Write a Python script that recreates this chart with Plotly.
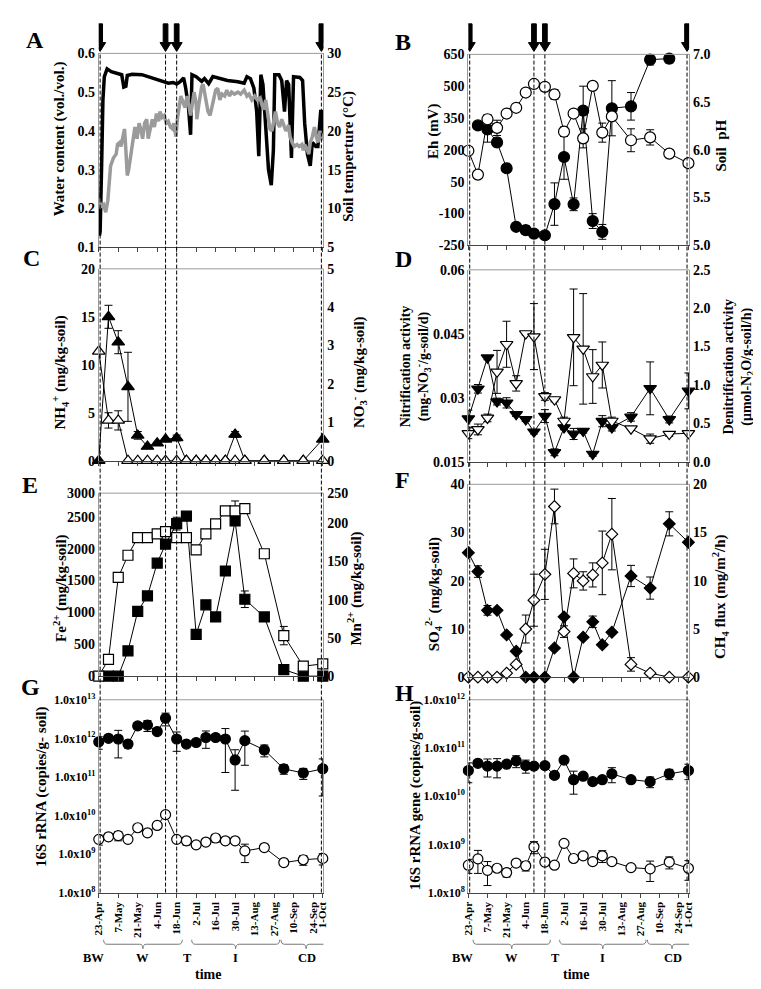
import pandas as pd
import plotly.graph_objects as go

# ---------------- data ----------------
START = pd.Timestamp("2010-04-23")
sample_dates = ["2010-04-23", "2010-04-30", "2010-05-07", "2010-05-14", "2010-05-21",
                "2010-05-28", "2010-06-04", "2010-06-10", "2010-06-18", "2010-06-25",
                "2010-07-02", "2010-07-09", "2010-07-16", "2010-07-23", "2010-07-30",
                "2010-08-06", "2010-08-20", "2010-09-03", "2010-09-17", "2010-10-01"]
tick_dates = ["2010-04-23", "2010-05-07", "2010-05-21", "2010-06-04", "2010-06-18",
              "2010-07-02", "2010-07-16", "2010-07-30", "2010-08-13", "2010-08-27",
              "2010-09-10", "2010-09-24", "2010-10-01"]
tick_labels = ["23-Apr", "7-May", "21-May", "4-Jun", "18-Jun", "2-Jul", "16-Jul",
               "30-Jul", "13-Aug", "27-Aug", "10-Sep", "24-Sep", "1-Oct"]
event_dates = ["2010-04-24", "2010-06-10", "2010-06-18", "2010-09-30"]

# Panel A: continuous records (days since 23-Apr)
wc_days = [0, 0.5, 1, 2, 3, 4, 6, 9, 13.5, 16.5, 18, 19.5, 20.5, 24, 31, 38, 45.5, 50, 53.5,
           56, 58.5, 61, 62.5, 64.5, 66, 67, 70, 74, 76, 79, 82, 87, 92.5, 100, 104.5, 106.5,
           109, 111.5, 113.5, 115, 116.5, 118, 120, 122, 124, 125.5, 126.5, 129.5, 131.5,
           133.5, 135, 136.5, 138.5, 140, 144.5, 146.5, 148, 150, 152, 153.5, 156, 157.5,
           159.5, 160.5, 161]
wc_vals = [0.19, 0.13, 0.14, 0.30, 0.48, 0.54, 0.56, 0.553, 0.548, 0.545, 0.513, 0.515, 0.543,
           0.546, 0.545, 0.537, 0.527, 0.523, 0.525, 0.521, 0.527, 0.537, 0.51, 0.46, 0.39,
           0.545, 0.54, 0.528, 0.535, 0.522, 0.54, 0.535, 0.53, 0.527, 0.523, 0.54, 0.535,
           0.51, 0.45, 0.335, 0.545, 0.52, 0.42, 0.30, 0.26, 0.35, 0.545, 0.545, 0.53, 0.45,
           0.53, 0.52, 0.33, 0.54, 0.538, 0.53, 0.42, 0.34, 0.31, 0.37, 0.36, 0.36, 0.45,
           0.45, 0.38]
temp_days = [0, 1.5, 3.5, 5, 6.5, 7.5, 8.5, 10.5, 12.5, 13.5, 15, 16, 17.5, 18.5, 19.5, 20.5,
             21.5, 23, 24.5, 26, 27.5, 29, 30.5, 31.5, 33, 34.5, 35.5, 37, 38.5, 40, 41.5, 43,
             44, 45.5, 47, 48.5, 50, 51.5, 53, 54, 55.5, 56.5, 58, 59, 60.5, 62, 63.5, 65, 66,
             67.5, 68.5, 70, 70.5, 72, 73, 74, 75, 76.5, 77.5, 78.5, 80, 81.5, 82.5, 84, 85.5,
             87, 88.5, 90.5, 92, 94, 95.5, 97.5, 100, 102, 104.5, 106.5, 108, 110, 112, 114,
             116, 117, 118.5, 120, 121.5, 123, 124.5, 126, 127, 128.5, 130, 131.5, 133, 134.5,
             136.5, 137.5, 139, 140.5, 142.5, 144, 146, 147, 148, 149.5, 151, 152, 153.5, 155,
             156, 157.5, 159, 160, 161]
temp_vals = [11.25, 10.25, 10.5, 9.5, 11, 13.5, 15.5, 16.5, 17, 18.25, 18.5, 18, 19.75, 20.25,
             17.5, 14.25, 15, 16.75, 18.75, 20.5, 19, 21, 20, 19, 21, 21.5, 19, 20.5, 21.5, 20.5,
             22.25, 21.25, 22.5, 21.75, 22, 21, 21.25, 20.5, 20.25, 21, 19.25, 21.5, 23.5, 24.5,
             23.75, 23, 24.5, 23, 22, 23.75, 25, 23.5, 21.5, 23.5, 24.5, 25.75, 26, 24.5, 23.5,
             22.5, 22, 23.5, 24, 25.25, 25.5, 24, 24.75, 24.5, 25.25, 24.5, 25, 24.75, 25, 24.75,
             25.25, 24.5, 24.75, 24, 24.5, 24, 24.25, 23.5, 22.75, 24, 22, 20.25, 20, 21.75, 22.5,
             21, 20.5, 21.5, 20.75, 20, 20.75, 19.25, 18.5, 18, 18.25, 18, 18.25, 17.5, 18.25,
             17.75, 17, 18.5, 19.25, 20.5, 19.5, 18.5, 20, 19.25, 18.75]

# Panel B
eh_vals = [None, 315, 296, 235, 113, -163, -179, -195, -203, -56, 166, -57, 385, -136, -187,
           396, 405, 625, 630, None]
eh_err = [0, 15, 60, 20, 15, 15, 20, 15, 15, 100, 105, 30, 115, 35, 35, 130, 65, 25, 20, 0]
ph_vals = [5.99, 5.74, 6.32, 6.23, 6.38, 6.44, 6.60, 6.69, 6.66, 6.58, 6.19, 6.38, 6.12, 6.67,
           6.18, 6.35, 6.10, 6.13, 5.96, 5.86]
ph_err = [0, 0, 0.05, 0.08, 0, 0, 0, 0, 0.03, 0.05, 0.05, 0, 0.1, 0, 0.1, 0, 0.12, 0.08, 0.04, 0]

# Panel C
nh4_vals = [0, 15.0, 12.35, 7.7, 2.64, 1.48, 1.82, 2.23, 2.37, 0, 0, 0, 0, 0, 2.74, 0, 0, 0, 0, 2.23]
nh4_err = [0, 1.2, 1.2, 3.6, 0.4, 0, 0.1, 0, 0.3, 0, 0, 0, 0, 0, 0.3, 0, 0, 0, 0, 0]
no3_vals = [2.85, 1.05, 1.05, 0, 0, 0, 0, 0, 0, 0, 0, 0, 0, 0, 0, 0, 0, 0, 0, 0]
no3_err = [0, 0.2, 0.25, 0, 0, 0, 0, 0, 0, 0, 0, 0, 0, 0, 0, 0, 0, 0, 0, 0]

# Panel D
nit_vals = [0.0251, 0.0321, 0.0394, 0.0291, 0.0288, 0.0261, 0.0249, 0.0220, 0.0257, 0.0172,
            0.0230, 0.0215, 0.0222, 0.0168, 0.0245, 0.0230, 0.0255, 0.0322, 0.0249, 0.0316]
nit_err = [0.002, 0.001, 0.0005, 0.0008, 0.0012, 0.0005, 0.0005, 0.0005, 0.0015, 0.0008,
           0.0005, 0.0013, 0.0005, 0.0005, 0.0013, 0.0008, 0.001, 0.0062, 0.0008, 0.0042]
den_vals = [0.37, 0.42, 0.57, 1.17, 1.53, 1.02, 1.67, 1.63, 0.85, 0.81, 0.53, 1.62, 1.47, 1.11,
            1.26, 0.53, 0.43, 0.30, 0.36, 0.37]
den_err = [0.07, 0.07, 0.05, 0.28, 0.3, 0.1, 0.02, 0.43, 0.05, 0.03, 0.05, 0.63, 0.72, 0.35,
           0.3, 0.05, 0, 0.06, 0.03, 0]

# Panel E
fe_vals = [None, 0, 0, 397, 1015, 1258, 1773, 2072, 2392, 2510, 655, 1119, 928, 1649, 2433,
           1206, 928, 103, 0, 0]
fe_err = [0, 0, 0, 0, 0, 0, 0, 0, 100, 0, 0, 0, 0, 0, 60, 130, 0, 0, 0, 0]
mn_vals = [0, 22, 129, 158, 181, 181, 186, 189, 181, 181, 165, 186, 199, 216, 216, 219, 160,
           53, 13, 16]
mn_err = [0, 0, 0, 0, 0, 0, 0, 0, 0, 0, 0, 0, 0, 0, 13, 0, 0, 12, 0, 0]

# Panel F
so4_vals = [25.8, 21.9, 13.85, 13.85, 8.76, 5.36, 0, 0, 0, 6.04, 12.5, 0, 8.28, 11.47, 6.72,
            9.3, 20.98, 18.47, 31.8, 27.97]
so4_err = [0, 1.2, 1.0, 0, 0, 0, 0, 0, 0, 0, 0, 0, 0, 1.2, 0, 0, 2.2, 2.3, 2.5, 0]
ch4_vals = [0, 0, 0, 0, 0.41, 1.32, 4.99, 7.98, 10.66, 17.7, 4.72, 10.76, 9.98, 10.6, 11.85,
            14.83, 1.32, 0.41, 0, 0]
ch4_err = [0, 0, 0, 0, 0, 0, 1.45, 2.7, 2.6, 1.8, 0.6, 1.5, 0.95, 1.25, 3.3, 3.7, 0.7, 0, 0, 0]

# Panel G
g_fill = [8.1e11, 1.0e12, 9.6e11, 7.1e11, 2.1e12, 2.2e12, 1.5e12, 3.3e12, 9.6e11, 7.1e11,
          7.8e11, 1.05e12, 1.05e12, 9.6e11, 2.75e11, 8.7e11, 5.0e11, 1.62e11, 1.26e11, 1.62e11]
g_fill_err = [2.9e11, 0, 6.5e11, 1.5e11, 4e11, 7e11, 0, 1.2e12, 5e11, 0, 0, 5e11, 0, 8.3e11,
              2.3e11, 6.7e11, 1.7e11, 4.5e10, 4e10, 1.3e11]
g_open = [2.4e9, 2.8e9, 3.0e9, 2.4e9, 4.8e9, 3.55e9, 5.5e9, 1.05e10, 2.4e9, 2.2e9, 1.73e9,
          2.04e9, 2.6e9, 2.2e9, 2.2e9, 1.2e9, 1.47e9, 6.0e8, 7.1e8, 7.7e8]
g_open_err = [7e8, 0, 8e8, 0, 0, 0, 0, 0, 0, 5e8, 3e8, 0, 6e8, 0, 0, 6e8, 0, 0, 2e8, 2.5e8]

# Panel H
h_fill = [3.4e10, 4.8e10, 4.2e10, 4.2e10, 4.6e10, 5.4e10, 4.3e10, 4.2e10, 4.3e10, 2.7e10,
          5.6e10, 2.2e10, 2.6e10, 2.0e10, 2.2e10, 2.9e10, 2.2e10, 2.0e10, 2.9e10, 3.4e10]
h_fill_err = [1.5e10, 0, 1.7e10, 1.8e10, 0, 1.5e10, 1.3e10, 0, 0, 0, 0, 1.1e10, 0, 0, 0,
              1e10, 0, 5e9, 7e9, 1.2e10]
h_open = [3.7e8, 5.0e8, 2.9e8, 3.2e8, 2.6e8, 4.1e8, 3.6e8, 8.9e8, 4.3e8, 3.7e8, 1.05e9, 5.1e8,
          5.8e8, 4.4e8, 5.8e8, 4.4e8, 3.3e8, 3.1e8, 4.3e8, 3.2e8]
h_open_err = [1.2e8, 2.5e8, 1.5e8, 0, 5e7, 0, 8e7, 2.5e8, 0, 0, 0, 0, 0, 0, 1.6e8, 0, 0,
              1.4e8, 1.2e8, 1.4e8]

# tick values / labels
A_left_t = [0.1, 0.2, 0.3, 0.4, 0.5, 0.6]
A_left_l = ["0.1", "0.2", "0.3", "0.4", "0.5", "0.6"]
A_right_t = [5, 10, 15, 20, 25, 30]
B_left_t = [-250, -100, 50, 200, 350, 500, 650]
B_left_l = ["-250", "-100", "50", "200", "350", "500", "650"]
B_right_t = [5.0, 5.5, 6.0, 6.5, 7.0]
B_right_l = ["5.0", "5.5", "6.0", "6.5", "7.0"]
C_left_t = [0, 5, 10, 15, 20]
C_right_t = [0, 1, 2, 3, 4, 5]
D_left_t = [0.015, 0.03, 0.045, 0.06]
D_left_l = ["0.015", "0.03", "0.045", "0.06"]
D_right_t = [0, 0.5, 1.0, 1.5, 2.0, 2.5]
D_right_l = ["0.0", "0.5", "1.0", "1.5", "2.0", "2.5"]
E_left_t = [0, 500, 1000, 1500, 2000, 2500, 2870]
E_left_l = ["0", "500", "1000", "1500", "2000", "2500", "3000"]
E_right_t = [0, 50, 100, 150, 200, 239.2]
E_right_l = ["0", "50", "100", "150", "200", "250"]
F_left_t = [0, 10, 20, 30, 40]
F_right_t = [0, 5, 10, 15, 20]
G_t = [1e8, 1e9, 1e10, 1e11, 1e12, 1e13]
G_l = ["1.0x10<sup>8</sup>", "1.0x10<sup>9</sup>", "1.0x10<sup>10</sup>",
       "1.0x10<sup>11</sup>", "1.0x10<sup>12</sup>", "1.0x10<sup>13</sup>"]
H_t = G_t[:5]
H_l = G_l[:5]

group_labels = ["BW", "W", "T", "I", "CD"]


def to_days(ds):
    return [(pd.Timestamp(d) - START).days for d in ds]


xs = to_days(sample_dates)
tick_days = to_days(tick_dates)
event_days = to_days(event_dates)

# ---------------- layout helpers ----------------
W, H = 761, 989
FONT = "Liberation Serif, Times New Roman, serif"
XR = [0, 161.5]
LX = [86 / W, 314 / W]
RX = [461 / W, 685 / W]
SIDE = "#9a9a9a"
BOTTOM = "#444444"


def nm(p, k):
    return p if k == 1 else f"{p}{k}"


def key(p, k):
    return p + "axis" if k == 1 else f"{p}axis{k}"


def day_to_paper(d, dom):
    return dom[0] + (d - XR[0]) / (XR[1] - XR[0]) * (dom[1] - dom[0])


layout = dict(width=W, height=H, margin=dict(l=0, r=0, t=0, b=0),
              paper_bgcolor="white", plot_bgcolor="white", showlegend=False,
              font=dict(family=FONT, color="black"))
shapes, annotations = [], []
traces = []


def tfont(size=14):
    return dict(family=FONT, size=size, color="black", weight="bold")


def panel(n, xd, top, bot, left, right=None, dates=False, log=False):
    yd = [1 - bot / H, 1 - top / H]
    layout[key("x", n)] = dict(
        domain=xd, anchor=nm("y", 2 * n - 1), range=XR, tickvals=tick_days,
        ticktext=tick_labels, showticklabels=dates, tickangle=-90, ticks="outside",
        ticklen=4, tickcolor=BOTTOM, showline=True, linecolor=BOTTOM, linewidth=1,
        showgrid=False, zeroline=False, tickfont=tfont(11))
    ly = dict(domain=yd, anchor=nm("x", n), showline=True, linecolor=SIDE, linewidth=1,
              showgrid=False, zeroline=False, ticks="", tickfont=tfont(12 if log else 14))
    ly.update(left)
    if log:
        ly["type"] = "log"
        ly["mirror"] = True
    layout[key("y", 2 * n - 1)] = ly
    if right:
        ry = dict(domain=yd, anchor=nm("x", n), overlaying=nm("y", 2 * n - 1), side="right",
                  showline=True, linecolor=SIDE, linewidth=1, showgrid=False, zeroline=False,
                  ticks="", tickfont=tfont(14))
        ry.update(right)
        layout[key("y", 2 * n)] = ry
    shapes.append(dict(type="line", xref="paper", yref="paper", x0=xd[0], x1=xd[1],
                       y0=yd[1], y1=yd[1], line=dict(color=SIDE, width=1), layer="above"))


def series(n, yk, y, err, symbol, size, fill):
    traces.append(go.Scatter(
        x=xs, y=y, mode="lines+markers", xaxis=nm("x", n), yaxis=nm("y", yk),
        line=dict(color="black", width=1), cliponaxis=False, hoverinfo="skip",
        marker=dict(symbol=symbol, size=size, color=fill, line=dict(color="black", width=1.2)),
        error_y=dict(type="data", array=err, visible=True, color="black", thickness=1, width=4)))


def ax_title(text, x, y, size=15):
    annotations.append(dict(text=text, x=x / W, y=1 - y / H, xref="paper", yref="paper",
                            textangle=-90, showarrow=False, font=tfont(size),
                            xanchor="center", yanchor="middle"))


def letter(text, x, y):
    annotations.append(dict(text=text, x=x / W, y=1 - y / H, xref="paper", yref="paper",
                            showarrow=False, font=tfont(24), xanchor="center",
                            yanchor="middle"))


def tk(vals, labels=None):
    return dict(tickvals=vals, ticktext=labels if labels else [str(v) for v in vals])


# ---------------- panels ----------------
panel(1, LX, 38, 235, dict(range=[0.1, 0.6], **tk(A_left_t, A_left_l)),
      dict(range=[5, 30], **tk(A_right_t)))
panel(2, RX, 39, 233, dict(range=[-250, 650], **tk(B_left_t, B_left_l)),
      dict(range=[5, 7], **tk(B_right_t, B_right_l)))
panel(3, LX, 257, 452, dict(range=[0, 20], **tk(C_left_t)),
      dict(range=[0, 5], **tk(C_right_t)))
panel(4, RX, 258, 453, dict(range=[0.015, 0.06], **tk(D_left_t, D_left_l)),
      dict(range=[0, 2.5], **tk(D_right_t, D_right_l)))
panel(5, LX, 485, 671, dict(range=[0, 2870], **tk(E_left_t, E_left_l)),
      dict(range=[0, 239.2], **tk(E_right_t, E_right_l)))
panel(6, RX, 476, 672, dict(range=[0, 40], **tk(F_left_t)),
      dict(range=[0, 20], **tk(F_right_t)))
panel(7, LX, 695, 891, dict(range=[8, 13], **tk(G_t, G_l)), dates=True, log=True)
panel(8, RX, 695, 891, dict(range=[8, 12], **tk(H_t, H_l)), dates=True, log=True)

# A lines
traces.append(go.Scatter(x=wc_days, y=wc_vals, mode="lines", xaxis="x", yaxis="y",
                         line=dict(color="black", width=3.5), hoverinfo="skip"))
traces.append(go.Scatter(x=temp_days, y=temp_vals, mode="lines", xaxis="x", yaxis="y2",
                         line=dict(color="#9b9b9b", width=3.5), hoverinfo="skip"))
# B
series(2, 4, ph_vals, ph_err, "circle", 11, "white")
series(2, 3, eh_vals, eh_err, "circle", 11, "black")
# C
series(3, 5, nh4_vals, nh4_err, "triangle-up", 11, "black")
series(3, 6, no3_vals, no3_err, "triangle-up", 11, "white")
# D
series(4, 8, den_vals, den_err, "triangle-down", 11, "white")
series(4, 7, nit_vals, nit_err, "triangle-down", 11, "black")
# E
series(5, 10, mn_vals, mn_err, "square", 10, "white")
series(5, 9, fe_vals, fe_err, "square", 10, "black")
# F
series(6, 12, ch4_vals, ch4_err, "diamond", 9, "white")
series(6, 11, so4_vals, so4_err, "diamond", 9, "black")
# G
series(7, 13, g_fill, g_fill_err, "circle", 10, "black")
series(7, 13, g_open, g_open_err, "circle", 10, "white")
# H
series(8, 15, h_fill, h_fill_err, "circle", 10, "black")
series(8, 15, h_open, h_open_err, "circle", 10, "white")

# ---------------- event lines and arrows ----------------
for xref, top, ppd in (("x", 38, 228 / (XR[1] - XR[0])), ("x2", 39, 224 / (XR[1] - XR[0]))):
    for d in event_days:
        shapes.append(dict(type="line", xref=xref, yref="paper", x0=d, x1=d,
                           y0=1 - 891 / H, y1=1 - top / H,
                           line=dict(color="black", width=1, dash="4px,2px")))
        sw, hw = 2.4 / ppd, 5.6 / ppd
        y_t, y_h, y_tip = 1 - 8 / H, 1 - 27 / H, 1 - 36 / H
        path = (f"M{d - sw},{y_t} L{d + sw},{y_t} L{d + sw},{y_h} L{d + hw},{y_h} "
                f"L{d},{y_tip} L{d - hw},{y_h} L{d - sw},{y_h} Z")
        shapes.append(dict(type="path", xref=xref, yref="paper", path=path,
                           fillcolor="black", line=dict(color="black", width=1)))

# ---------------- braces and phase labels ----------------
brace_spans = [(3.5, 60), (66.8, 130), (131, 167)]
label_days = [-4, 31.7, 64, 98.5, 149.6]
for xref, dom in (("x7", LX), ("x8", RX)):
    yt, ym, yb = 1 - 939 / H, 1 - 943.5 / H, 1 - 948 / H
    r = 2.5
    for a, b in brace_spans:
        c = (a + b) / 2
        path = (f"M{a},{yt} Q{a},{ym} {a + r},{ym} L{c - r},{ym} Q{c},{ym} {c},{yb} "
                f"Q{c},{ym} {c + r},{ym} L{b - r},{ym} Q{b},{ym} {b},{yt}")
        shapes.append(dict(type="path", xref=xref, yref="paper", path=path,
                           line=dict(color="#777777", width=1)))
    for lab, d in zip(group_labels, label_days):
        annotations.append(dict(text=lab, x=day_to_paper(d, dom), y=1 - 957 / H,
                                xref="paper", yref="paper", showarrow=False,
                                font=tfont(12.5), xanchor="center", yanchor="middle"))
    annotations.append(dict(text="time", x=day_to_paper(78.5, dom), y=1 - 974 / H,
                            xref="paper", yref="paper", showarrow=False, font=tfont(14),
                            xanchor="center", yanchor="middle"))

# ---------------- titles & letters ----------------
ax_title("Water content (vol./vol.)", 47, 125)
ax_title("Soil temperture (°C)", 340, 143)
ax_title("Eh (mV)", 425, 117)
ax_title("Soil  pH", 717, 132)
ax_title("NH<sub>4</sub><sup>+</sup> (mg/kg-soil)", 47, 362)
ax_title("NO<sub>3</sub><sup>-</sup> (mg/kg-soil)", 350, 362)
ax_title("Nitrification activity<br>(mg-NO<sub>3</sub><sup>-</sup>/g-soil/d)", 407, 356, 14)
ax_title("Denitrification activity<br>(μmol-N<sub>2</sub>O/g-soil/h)", 735, 356, 14)
ax_title("Fe<sup>2+</sup> (mg/kg-soil)", 47, 582)
ax_title("Mn<sup>2+</sup> (mg/kg-soil)", 346, 582)
ax_title("SO<sub>4</sub><sup>2-</sup> (mg/kg-soil)", 426, 588)
ax_title("CH<sub>4</sub> flux (mg/m<sup>2</sup>/h)", 717, 590)
ax_title("16S rRNA (copies/g- soil)", 28, 784)
ax_title("16S rRNA gene (copies/g-soil)", 407, 792)

for t, x, y in (("A", 21, 24), ("B", 395, 26), ("C", 18, 246), ("D", 395, 247),
                ("E", 16, 477), ("F", 394, 472), ("G", 17, 682), ("H", 396, 688)):
    letter(t, x, y)

layout["shapes"] = shapes
layout["annotations"] = annotations
fig = go.Figure(data=traces, layout=layout)
fig.write_html("out.html")
